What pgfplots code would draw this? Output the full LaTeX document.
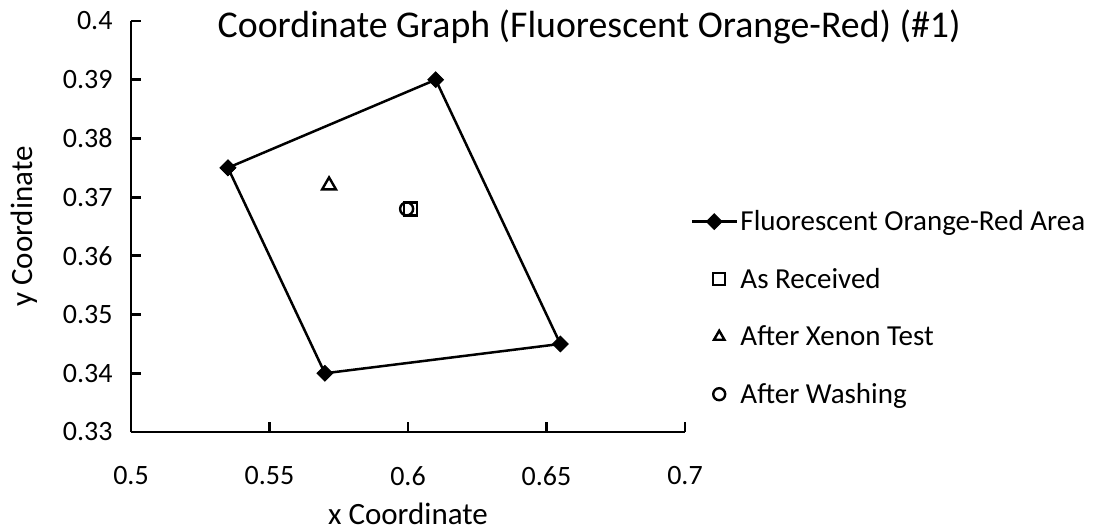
\documentclass[border=0pt]{standalone}
\usepackage{pgfplots}
\pgfplotsset{compat=1.18}
\usepackage{fontspec}
\setmainfont{Carlito}
\pgfplotsset{
  mylegimg/.style={legend image code/.code={\draw[##1, mark repeat=2, mark phase=2] plot coordinates {(0pt,0pt) (22pt,0pt) (45pt,0pt)};}},
  mylegmark/.style={legend image code/.code={\path (0pt,0pt) (45pt,0pt); \draw[##1, mark size=6pt] plot coordinates {(27pt,0pt)};}},
}
\begin{document}
\begin{tikzpicture}[x=1pt,y=1pt]
\begin{axis}[
  at={(0pt,0pt)}, anchor=south west,
  scale only axis, width=554pt, height=411pt,
  xmin=0.5, xmax=0.7, ymin=0.33, ymax=0.4,
  xtick={0.5,0.55,...,0.7}, ytick={0.33,0.34,...,0.4},
  axis lines*=left, axis line style={line width=2.8pt,-},
  tick style={line width=2.8pt, black}, tick align=inside,
  major tick length=10pt,
  /pgf/number format/assume math mode=true,
  /pgf/number format/.cd, fixed, precision=3, /pgfplots/.cd,
  tick label style={font=\fontsize{28}{32}\selectfont},
  xticklabel style={yshift=-31pt},
  yticklabel style={xshift=-15pt},
  label style={font=\fontsize{31}{36}\selectfont},
  xlabel={x Coordinate}, ylabel={y Coordinate},
  xlabel style={at={(axis description cs:0.5,-0.226)}, anchor=base},
  ylabel style={at={(axis description cs:-0.177,0.5)}, anchor=base},
  title={Coordinate Graph (Fluorescent Orange-Red) (\#1)},
  title style={at={(axis description cs:0.827,0.945)}, anchor=base, font=\fontsize{37.8}{42}\selectfont},
  clip=false,
  legend style={draw=none, at={(1.005,0.302)}, anchor=west, font=\fontsize{29}{34}\selectfont, row sep=32pt, legend cell align=left},
]
\addplot[black, line width=2.5pt, mark=square*, mark size=5.5pt, mark options={fill=black, rotate=45, line width=1pt}, mylegimg]
  coordinates {(0.535,0.375) (0.61,0.39) (0.655,0.345) (0.57,0.34) (0.535,0.375)};
\addlegendentry{Fluorescent Orange-Red Area}
\addplot[only marks, black, mark=square, mark size=6.5pt, mark options={line width=2.4pt}, mylegmark]
  coordinates {(0.601,0.368)};
\addlegendentry{As Received}
\addplot[only marks, black, mark=triangle, mark size=8pt, mark options={line width=2.4pt}, mylegmark]
  coordinates {(0.5715,0.372)};
\addlegendentry{After Xenon Test}
\addplot[only marks, black, mark=o, mark size=6.5pt, mark options={line width=2.4pt}, mylegmark]
  coordinates {(0.5995,0.368)};
\addlegendentry{After Washing}
\end{axis}
\pgfresetboundingbox
\path[use as bounding box] (-131,-99) rectangle (966,432);
\end{tikzpicture}
\end{document}
